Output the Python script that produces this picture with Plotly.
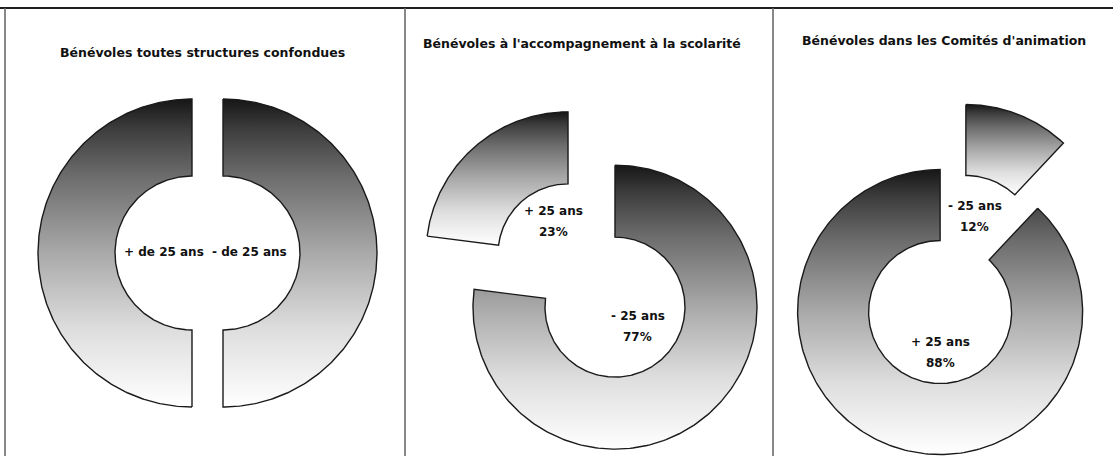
import numpy as np
import plotly.graph_objects as go

W, H = 1113, 456

# ---------------- data ----------------
titles = [
    "Bénévoles toutes structures confondues",
    "Bénévoles à l'accompagnement à la scolarité",
    "Bénévoles dans les Comités d'animation",
]
# slices listed clockwise starting at 12 o'clock
p1_labels = ["- de 25 ans", "+ de 25 ans"]
p1_values = [50, 50]
p2_labels = ["- 25 ans", "+ 25 ans"]
p2_values = [77, 23]
p3_labels = ["- 25 ans", "+ 25 ans"]
p3_values = [12, 88]
show_pct = [False, True, True]

# ---------------- layout / style (pixels, origin top-left) ----------------
panels = [
    dict(cx=207.5, cy=253, r_out=154, r_in=77, pull=15.5, tx=202, ty=52,
         lab_off=[(26, -1), (-28, -1)]),
    dict(cx=591.5, cy=280.5, r_out=142, r_in=70, pull=35.5, tx=582, ty=43,
         lab_off=[(23, 19), (-15, -32)]),
    dict(cx=953.0, cy=279.5, r_out=142.5, r_in=71.5, pull=35, tx=944, ty=40,
         lab_off=[(9, -30), (0, 40)]),
]
FONT = "DejaVu Sans"
grad = [[0.0, "#ffffff"], [0.25, "#dedede"], [0.5, "#a9a9a9"],
        [0.75, "#6c6c6c"], [0.9, "#3e3e3e"], [1.0, "#161616"]]

fig = go.Figure()
annotations = []

datasets = [(p1_labels, p1_values), (p2_labels, p2_values), (p3_labels, p3_values)]
for i, ((labels, values), cfg) in enumerate(zip(datasets, panels)):
    total = float(sum(values))
    start = 0.0
    for k, (lab, val) in enumerate(zip(labels, values)):
        a0 = start
        a1 = start + 360.0 * val / total
        start = a1
        mid = np.radians((a0 + a1) / 2)
        # pulled slice centre (screen coords)
        scx = cfg["cx"] + cfg["pull"] * np.sin(mid)
        scy = cfg["cy"] - cfg["pull"] * np.cos(mid)
        t_out = np.radians(np.linspace(a0, a1, 240))
        t_in = t_out[::-1]
        xs = np.concatenate([scx + cfg["r_out"] * np.sin(t_out),
                             scx + cfg["r_in"] * np.sin(t_in)])
        ys = np.concatenate([scy - cfg["r_out"] * np.cos(t_out),
                             scy - cfg["r_in"] * np.cos(t_in)])
        xs = np.append(xs, xs[0])
        ys = np.append(ys, ys[0])
        fig.add_trace(go.Scatter(
            x=xs, y=H - ys, mode="lines", fill="toself",
            fillgradient=dict(type="vertical", colorscale=grad),
            line=dict(color="#1a1a1a", width=1.4),
            hoverinfo="skip", showlegend=False,
        ))
        # label inside the hole
        dx, dy = cfg["lab_off"][k]
        lx, ly = scx + dx, scy + dy
        lf = dict(family=FONT, size=12, color="#111", weight="bold")
        if show_pct[i]:
            pct = f"{round(100 * val / total)}%"
            annotations.append(dict(x=lx, y=H - (ly - 10.5), text=lab, showarrow=False, font=lf))
            annotations.append(dict(x=lx, y=H - (ly + 10.5), text=pct, showarrow=False, font=lf))
        else:
            annotations.append(dict(x=lx, y=H - ly, text=lab, showarrow=False, font=lf))
    annotations.append(dict(x=cfg["tx"], y=H - cfg["ty"], text=titles[i], showarrow=False,
                            font=dict(family=FONT, size=12.5, color="#111", weight="bold")))

shapes = [dict(type="line", x0=0, x1=W, y0=H - 8, y1=H - 8,
               line=dict(color="#1e1e1e", width=2))]
for vx in (5, 405, 773):
    shapes.append(dict(type="line", x0=vx, x1=vx, y0=0, y1=H - 8,
                       line=dict(color="#6a6a6a", width=1.6)))

fig.update_layout(
    width=W, height=H,
    margin=dict(l=0, r=0, t=0, b=0),
    paper_bgcolor="white", plot_bgcolor="white",
    xaxis=dict(range=[0, W], visible=False, fixedrange=True),
    yaxis=dict(range=[0, H], visible=False, fixedrange=True),
    annotations=annotations, shapes=shapes,
    showlegend=False,
)

fig.write_html("out.html", config={"displayModeBar": False},
               post_script="document.body.style.margin='0';document.body.style.overflow='hidden';")
